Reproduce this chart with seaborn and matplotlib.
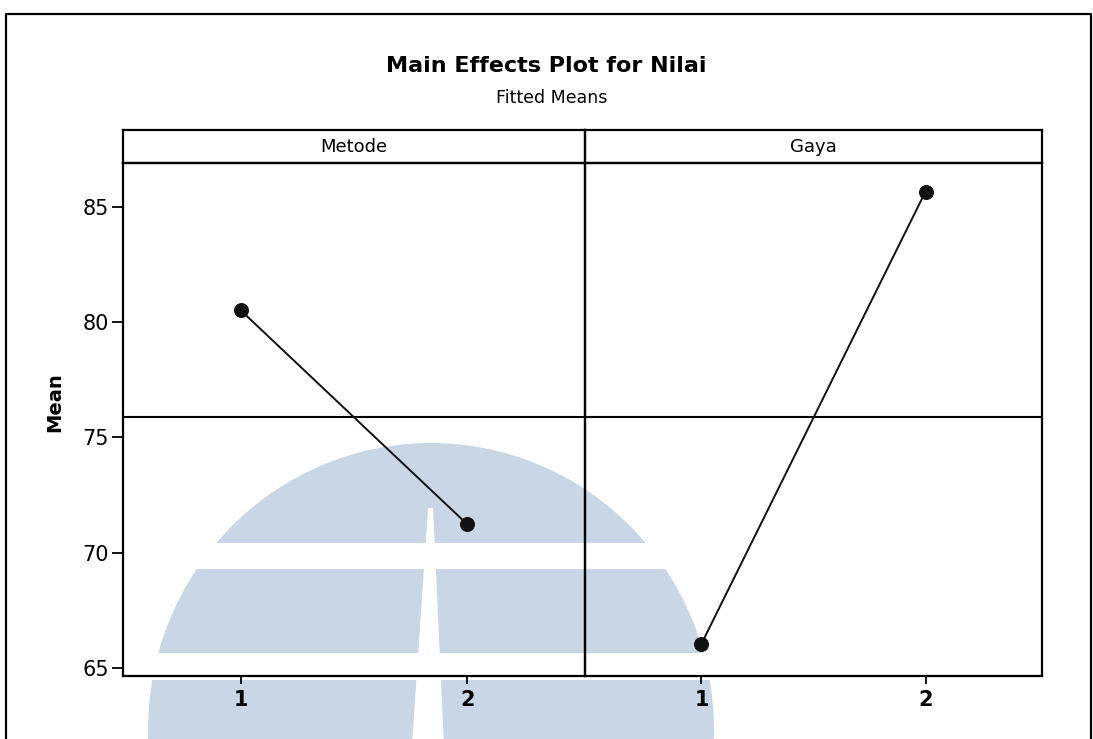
import matplotlib
matplotlib.use("Agg")
import matplotlib.pyplot as plt
import seaborn as sns
import pandas as pd
from matplotlib.patches import Ellipse, Rectangle, Polygon

# ---- data ----
factors = ["Metode", "Gaya"]
levels = [1, 2]
metode_means = [80.52, 71.23]
gaya_means = [66.04, 85.68]
overall_mean = 75.88
y_ticks = [65, 70, 75, 80, 85]
title = "Main Effects Plot for Nilai"
subtitle = "Fitted Means"
y_label = "Mean"

sns.set_theme(style="white")
plt.rcParams["font.family"] = ["DejaVu Sans"]
plt.rcParams["text.color"] = "black"
plt.rcParams["xtick.color"] = "black"
plt.rcParams["ytick.color"] = "black"
plt.rcParams["axes.labelcolor"] = "black"

W, H = 1093, 739
fig = plt.figure(figsize=(W / 100, H / 100), dpi=100)
fig.patch.set_facecolor("white")

# background layer (watermark + outer frame) in pixel coordinates
bg = fig.add_axes([0, 0, 1, 1], zorder=-5)
bg.set_xlim(0, W)
bg.set_ylim(H, 0)
bg.axis("off")
wm = "#c9d6e6"
bg.add_patch(Ellipse((431, 730), 566, 574, facecolor=wm, edgecolor="none", zorder=1))
bg.add_patch(Rectangle((0, 543), W, 26, facecolor="white", edgecolor="none", zorder=2))
bg.add_patch(Rectangle((0, 653), W, 27, facecolor="white", edgecolor="none", zorder=2))
bg.add_patch(Polygon([(428, 508), (433, 508), (444, 745), (412, 745)],
                     closed=True, facecolor="white", edgecolor="none", zorder=2))
bg.plot([6, 6, 1091, 1091], [760, 14, 14, 760], color="black", lw=1.6, zorder=3,
        solid_capstyle="butt")

def fx(px):
    return px / W

def fy(py):
    return 1 - py / H

panel_x = [(123, 585), (585, 1042)]
top_px, bot_px, strip_top = 163, 676, 130
data_sets = [metode_means, gaya_means]

for i, (name, vals) in enumerate(zip(factors, data_sets)):
    x0, x1 = panel_x[i]
    ax = fig.add_axes([fx(x0), fy(bot_px), fx(x1) - fx(x0), fy(top_px) - fy(bot_px)])
    ax.set_facecolor("none")
    df = pd.DataFrame({"level": levels, "mean": vals})
    ax.axhline(overall_mean, color="black", lw=1.5, zorder=1)
    sns.lineplot(data=df, x="level", y="mean", marker="o", color="#111111",
                 lw=1.4, markersize=10, markeredgecolor="#111111", ax=ax, zorder=3)
    ax.set_xlim(0.48, 2.52)
    ax.set_ylim(64.64, 86.92)
    ax.set_xticks(levels)
    ax.set_xticklabels([str(l) for l in levels], fontsize=15, fontweight="bold")
    ax.set_xlabel("")
    ax.set_ylabel("")
    for s in ax.spines.values():
        s.set_color("black")
        s.set_linewidth(1.6)
        s.set_visible(True)
    ax.tick_params(axis="x", direction="out", length=6, width=1.3, color="black",
                   labelcolor="black", pad=4, bottom=True)
    if i == 0:
        ax.set_yticks(y_ticks)
        ax.set_yticklabels([str(t) for t in y_ticks], fontsize=15)
        ax.tick_params(axis="y", direction="out", length=8, width=1.3, color="black",
                       labelcolor="black", left=True, pad=2)
    else:
        ax.set_yticks(y_ticks)
        ax.tick_params(axis="y", left=False, labelleft=False)
    ax.grid(False)

    sax = fig.add_axes([fx(x0), fy(top_px), fx(x1) - fx(x0), fy(strip_top) - fy(top_px)])
    sax.set_facecolor("none")
    sax.set_xticks([])
    sax.set_yticks([])
    for s in sax.spines.values():
        s.set_color("black")
        s.set_linewidth(1.6)
        s.set_visible(True)
    sax.text(0.5, 0.5, name, ha="center", va="center", fontsize=13, color="black",
             transform=sax.transAxes)

fig.text(fx(546), fy(66), title, ha="center", va="center", fontsize=16,
         fontweight="bold", color="black")
fig.text(fx(552), fy(98), subtitle, ha="center", va="center", fontsize=12.5, color="black")
fig.text(fx(55), fy(402), y_label, ha="center", va="center", fontsize=14,
         fontweight="bold", rotation=90, color="black")

fig.savefig("out.png", dpi=100)
